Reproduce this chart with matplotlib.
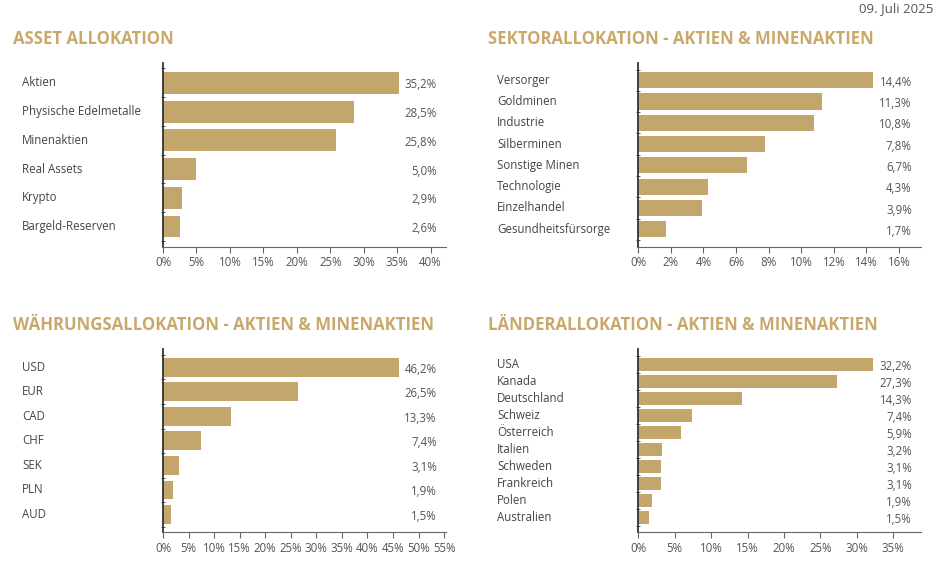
import matplotlib.pyplot as plt
import matplotlib.transforms as mtransforms
import numpy as np

plt.rcParams['font.family'] = ['Open Sans', 'DejaVu Sans']

# data
asset_labels = ["Aktien", "Physische Edelmetalle", "Minenaktien", "Real Assets",
                "Krypto", "Bargeld-Reserven"]
asset_values = [35.2, 28.5, 25.8, 5.0, 2.9, 2.6]

sektor_labels = ["Versorger", "Goldminen", "Industrie", "Silberminen",
                 "Sonstige Minen", "Technologie", "Einzelhandel",
                 "Gesundheitsfürsorge"]
sektor_values = [14.4, 11.3, 10.8, 7.8, 6.7, 4.3, 3.9, 1.7]

waehrung_labels = ["USD", "EUR", "CAD", "CHF", "SEK", "PLN", "AUD"]
waehrung_values = [46.2, 26.5, 13.3, 7.4, 3.1, 1.9, 1.5]

laender_labels = ["USA", "Kanada", "Deutschland", "Schweiz", "Österreich",
                  "Italien", "Schweden", "Frankreich", "Polen", "Australien"]
laender_values = [32.2, 27.3, 14.3, 7.4, 5.9, 3.2, 3.1, 3.1, 1.9, 1.5]

BAR = "#C2A66B"
GOLD = "#C8A96A"
TXT = "#444444"
FS = 8.3

W, H = 947, 577
fig = plt.figure(figsize=(W / 100, H / 100), dpi=100)


def panel(rect, labels, values, ticks, xmax, pad, label_x, title, title_x, title_y):
    ax = fig.add_axes(rect)
    y = np.arange(len(values))
    ax.barh(y, values, height=0.76, color=BAR)
    ax.set_ylim(len(values) - 1 + pad, -pad)
    ax.set_xlim(0, xmax)
    ax.set_xticks(ticks)
    ax.set_xticklabels([f"{t}%" for t in ticks], fontsize=FS, color="#555555")
    ax.tick_params(axis="x", length=4, color="#666666", pad=3)
    ax.set_yticks([])
    ax.set_yticks(np.arange(len(values) + 1) - 0.5, minor=True)
    ax.tick_params(axis="y", which="minor", length=3, direction="inout",
                   color="#333333", labelleft=False)
    for s in ["top", "right"]:
        ax.spines[s].set_visible(False)
    ax.spines["left"].set_color("#333333")
    ax.spines["left"].set_linewidth(1.3)
    ax.spines["bottom"].set_color("#666666")

    lab_tr = mtransforms.blended_transform_factory(fig.transFigure, ax.transData)
    val_tr = mtransforms.blended_transform_factory(ax.transAxes, ax.transData)
    for yi, (lab, v) in enumerate(zip(labels, values)):
        ax.text(label_x, yi, lab, transform=lab_tr, ha="left", va="center",
                fontsize=FS, color=TXT)
        ax.annotate(f"{v:.1f}%".replace(".", ","), (0.969, yi), xycoords=val_tr,
                    xytext=(0, -1.5), textcoords="offset points",
                    ha="right", va="center", fontsize=FS, color="#555555")
    fig.text(title_x, title_y, title, ha="left", va="center", fontsize=12.1,
             fontweight="bold", color=GOLD)
    return ax


panel([163 / W, 1 - 246.7 / H, 282.7 / W, 184 / H], asset_labels, asset_values,
      list(range(0, 45, 5)), 42.25, 0.70, 22 / W,
      "ASSET ALLOKATION", 13 / W, 1 - 39 / H)

panel([638.3 / W, 1 - 246.7 / H, 282.4 / W, 184 / H], sektor_labels, sektor_values,
      list(range(0, 18, 2)), 17.33, 0.82, 497.3 / W,
      "SEKTORALLOKATION - AKTIEN & MINENAKTIEN", 488.3 / W, 1 - 38.5 / H)

panel([163 / W, 1 - 532.3 / H, 282.7 / W, 183 / H], waehrung_labels, waehrung_values,
      list(range(0, 60, 5)), 55.3, 0.73, 22 / W,
      "WÄHRUNGSALLOKATION - AKTIEN & MINENAKTIEN", 13 / W, 1 - 324.5 / H)

panel([638.3 / W, 1 - 532.3 / H, 282.4 / W, 183 / H], laender_labels, laender_values,
      list(range(0, 40, 5)), 38.76, 0.88, 497.3 / W,
      "LÄNDERALLOKATION - AKTIEN & MINENAKTIEN", 488.3 / W, 1 - 324.5 / H)

fig.text(933 / W, 1 - 9 / H, "09. Juli 2025", ha="right", va="center",
         fontsize=9.5, color="#555555")

fig.savefig("out.png", dpi=100)
